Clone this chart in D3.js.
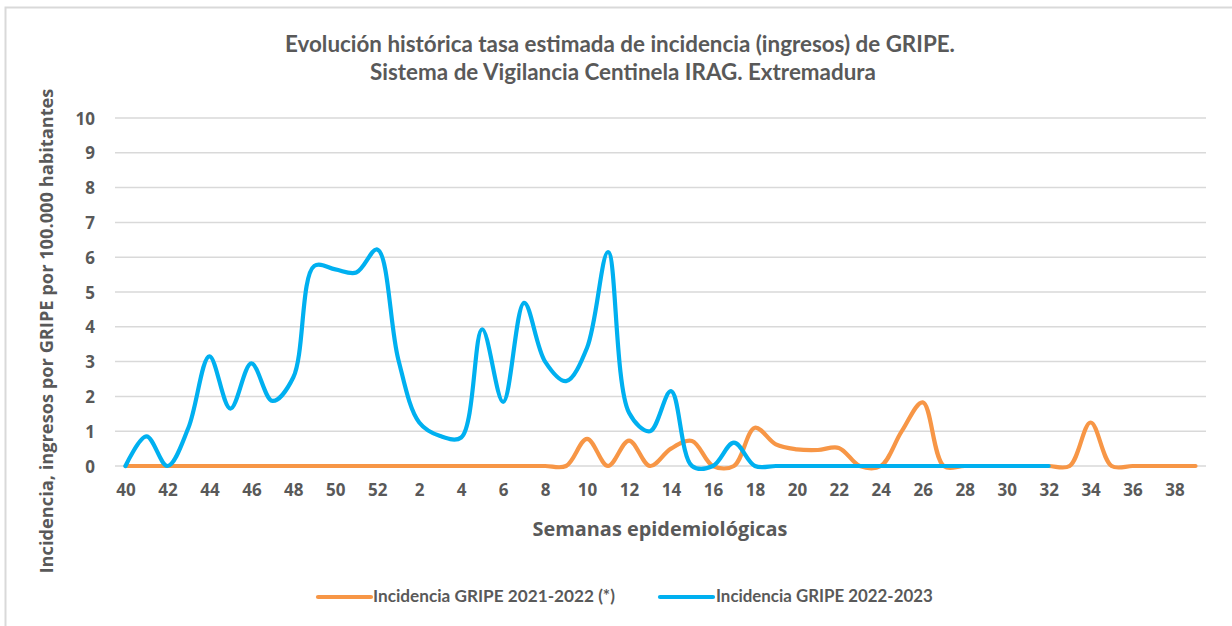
<!DOCTYPE html>
<html>
<head>
<meta charset="utf-8">
<script src="https://cdn.jsdelivr.net/npm/d3@7"></script>
<style>
  html, body { margin: 0; padding: 0; background: #fff; }
  svg { display: block; }
</style>
</head>
<body>
<svg id="chart" width="1232" height="626"></svg>
<script>
// ---- Data ----
const weeks = ["40","41","42","43","44","45","46","47","48","49","50","51","52",
  "1","2","3","4","5","6","7","8","9","10","11","12","13","14","15","16","17","18","19",
  "20","21","22","23","24","25","26","27","28","29","30","31","32","33","34","35","36","37","38","39"];
const tickWeeks = ["40","42","44","46","48","50","52","2","4","6","8","10","12","14","16","18",
  "20","22","24","26","28","30","32","34","36","38"];
const yTicks = [0,1,2,3,4,5,6,7,8,9,10];

const season2122 = [0,0,0,0,0,0,0,0,0,0,0,0,0,
  0,0,0,0,0,0,0,0,0,0.78,0,0.73,0,0.5,0.72,0,0,1.1,0.62,
  0.48,0.46,0.52,0,0,1.0,1.83,0,0,0,0,0,0,0,1.25,0,0,0,0,0];
const season2223 = [0,0.85,0,1.1,3.15,1.65,2.95,1.87,2.55,5.75,5.65,5.56,6.22,
  3.07,1.25,0.86,0.82,3.93,1.84,4.69,3.0,2.44,3.4,6.15,1.53,1.0,2.15,0,0,0.67,0,0,
  0,0,0,0,0,0,0,0,0,0,0,0,0];

const seriesNames = ["Incidencia GRIPE 2021-2022 (*)", "Incidencia GRIPE 2022-2023"];
const seriesColors = ["#F79646", "#00B0F0"];
const titleLines = ["Evolución histórica tasa estimada de incidencia (ingresos) de GRIPE.",
  "Sistema de Vigilancia Centinela IRAG. Extremadura"];
const xTitle = "Semanas epidemiológicas";
const yTitle = "Incidencia, ingresos por GRIPE por  100.000 habitantes";

// ---- Layout ----
const svg = d3.select("#chart");
const plot = {left: 115, right: 1206, top: 118, bottom: 466};
const textColor = "#595959";

function fit(sel, target) {
  const n = sel.node();
  const fs = parseFloat(sel.attr("font-size"));
  const w = n.getComputedTextLength();
  if (w > 0) sel.attr("font-size", (fs * target / w).toFixed(2));
  return sel;
}

// border
svg.append("rect").attr("x", 5.5).attr("y", 7.5).attr("width", 1300).attr("height", 700)
  .attr("fill", "none").attr("stroke", "#D9D9D9").attr("stroke-width", 2);

const x = d3.scalePoint().domain(weeks).range([plot.left, plot.right]).padding(0.5);
const y = d3.scaleLinear().domain([0, 10]).range([plot.bottom, plot.top]);

// gridlines
svg.append("g").selectAll("line").data(yTicks).join("line")
  .attr("x1", plot.left).attr("x2", plot.right)
  .attr("y1", d => y(d)).attr("y2", d => y(d))
  .attr("stroke", "#D9D9D9").attr("stroke-width", 1.5);

// y axis
const yAxis = svg.append("g").attr("transform", `translate(${plot.left},0)`)
  .call(d3.axisLeft(y).tickValues(yTicks).tickSize(0).tickPadding(20).tickFormat(d3.format("d")));
yAxis.select(".domain").remove();
yAxis.selectAll("text").attr("font-family", "'Open Sans', sans-serif").attr("font-weight", "bold")
  .attr("font-size", 17).attr("fill", textColor).attr("dy", "0.36em");

// x axis
const xAxis = svg.append("g").attr("transform", `translate(0,${plot.bottom})`)
  .call(d3.axisBottom(x).tickValues(tickWeeks).tickSize(0).tickPadding(18));
xAxis.select(".domain").remove();
xAxis.selectAll("text").attr("font-family", "'Open Sans', sans-serif").attr("font-weight", "bold")
  .attr("font-size", 17).attr("fill", textColor);

// lines
const line = d3.line().x((d, i) => x(weeks[i])).y(d => y(d)).curve(d3.curveCatmullRom.alpha(0.5));
[season2122, season2223].forEach((s, k) => {
  svg.append("path").datum(s).attr("d", line).attr("fill", "none")
    .attr("stroke", seriesColors[k]).attr("stroke-width", 4.2)
    .attr("stroke-linecap", "round").attr("stroke-linejoin", "round");
});

// title
const t1 = svg.append("text").attr("x", 620).attr("y", 52).attr("text-anchor", "middle")
  .attr("font-family", "Lato, sans-serif").attr("font-weight", "bold").attr("font-size", 19)
  .attr("fill", textColor).text(titleLines[0]);
fit(t1, 670);
const t2 = svg.append("text").attr("x", 623).attr("y", 80).attr("text-anchor", "middle")
  .attr("font-family", "Lato, sans-serif").attr("font-weight", "bold").attr("font-size", 19)
  .attr("fill", textColor).text(titleLines[1]);
fit(t2, 506);

// axis titles
const xt = svg.append("text").attr("x", 660).attr("y", 536).attr("text-anchor", "middle")
  .attr("font-family", "'Open Sans', sans-serif").attr("font-weight", "bold").attr("font-size", 18)
  .attr("fill", textColor).text(xTitle);
fit(xt, 255);
const yt = svg.append("text").attr("transform", "translate(53,331) rotate(-90)").attr("text-anchor", "middle")
  .attr("font-family", "'Open Sans', sans-serif").attr("font-weight", "bold").attr("font-size", 16)
  .attr("fill", textColor).text(yTitle);
fit(yt, 485);

// legend
const legendItems = [
  {x1: 318, x2: 371, tx: 373, w: 242},
  {x1: 660, x2: 713, tx: 716, w: 217}
];
legendItems.forEach((L, k) => {
  svg.append("line").attr("x1", L.x1).attr("x2", L.x2).attr("y1", 597).attr("y2", 597)
    .attr("stroke", seriesColors[k]).attr("stroke-width", 4.2).attr("stroke-linecap", "round");
  const lt = svg.append("text").attr("x", L.tx).attr("y", 602)
    .attr("font-family", "Lato, sans-serif").attr("font-weight", "bold").attr("font-size", 14)
    .attr("fill", textColor).text(seriesNames[k]);
  fit(lt, L.w);
});
</script>
</body>
</html>
